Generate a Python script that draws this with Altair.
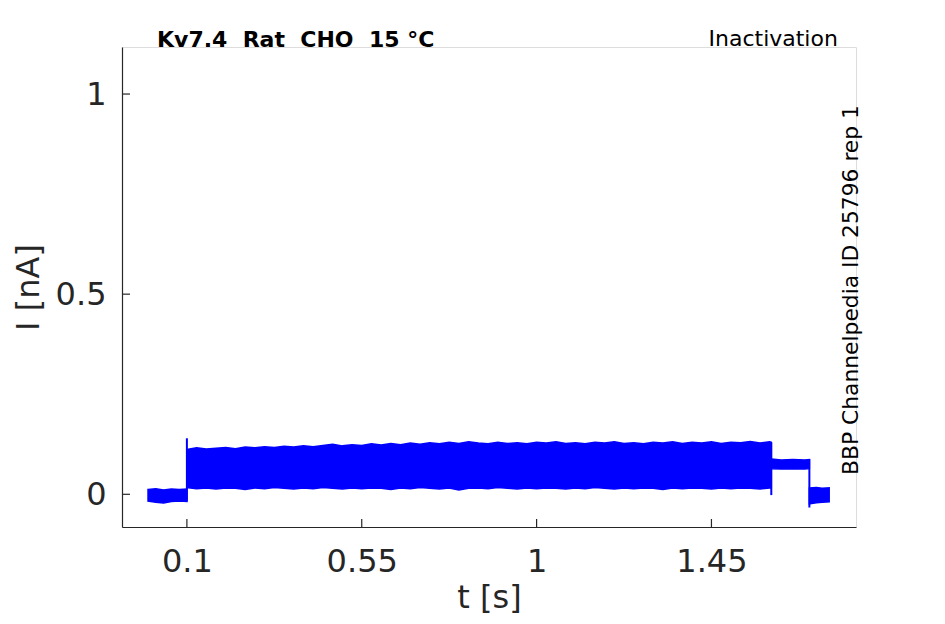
import altair as alt
import pandas as pd

# ---------------- data ----------------
# baseline before the step (t in s, I in nA)
pre_t = [0.0, 0.02, 0.04, 0.06, 0.08, 0.1]
pre_hi = [0.012, 0.014, 0.011, 0.013, 0.012, 0.013]
pre_lo = [-0.017, -0.020, -0.022, -0.018, -0.017, -0.018]

# envelope of the family of sweeps during the test pulse
main_t = [0.100, 0.125, 0.150, 0.175, 0.200, 0.225, 0.250, 0.275, 0.300, 0.325,
          0.350, 0.375, 0.400, 0.425, 0.450, 0.475, 0.500, 0.525, 0.550, 0.575,
          0.600, 0.625, 0.650, 0.675, 0.700, 0.725, 0.750, 0.775, 0.800, 0.825,
          0.850, 0.875, 0.900, 0.925, 0.950, 0.975, 1.000, 1.025, 1.050, 1.075,
          1.100, 1.125, 1.150, 1.175, 1.200, 1.225, 1.250, 1.275, 1.300, 1.325,
          1.350, 1.375, 1.400, 1.425, 1.450, 1.475, 1.500, 1.525, 1.550, 1.575,
          1.600, 1.604]
main_hi = [0.112, 0.116, 0.113, 0.115, 0.117, 0.114, 0.118, 0.116, 0.119, 0.117,
           0.120, 0.118, 0.121, 0.119, 0.122, 0.125, 0.121, 0.124, 0.122, 0.126,
           0.123, 0.127, 0.124, 0.128, 0.125, 0.129, 0.126, 0.130, 0.127, 0.131,
           0.128, 0.126, 0.130, 0.127, 0.129, 0.126, 0.130, 0.128, 0.131, 0.127,
           0.129, 0.126, 0.130, 0.128, 0.131, 0.127, 0.129, 0.126, 0.130, 0.128,
           0.131, 0.127, 0.130, 0.128, 0.131, 0.127, 0.130, 0.129, 0.132, 0.128,
           0.131, 0.130]
main_lo = [0.017, 0.014, 0.016, 0.013, 0.016, 0.015, 0.012, 0.016, 0.014, 0.017,
           0.015, 0.013, 0.016, 0.014, 0.017, 0.015, 0.013, 0.016, 0.014, 0.016,
           0.015, 0.012, 0.016, 0.014, 0.017, 0.015, 0.013, 0.016, 0.011, 0.015,
           0.016, 0.014, 0.017, 0.015, 0.013, 0.016, 0.014, 0.016, 0.015, 0.013,
           0.016, 0.014, 0.017, 0.015, 0.013, 0.016, 0.014, 0.016, 0.015, 0.012,
           0.016, 0.014, 0.016, 0.015, 0.013, 0.016, 0.014, 0.016, 0.015, 0.013,
           0.016, 0.015]

# hold level after the pulse
hold_t = [1.604, 1.63, 1.66, 1.69, 1.702]
hold_hi = [0.088, 0.086, 0.087, 0.086, 0.087]
hold_lo = [0.064, 0.063, 0.064, 0.063, 0.064]

# return to baseline
tail_t = [1.702, 1.72, 1.735, 1.753]
tail_hi = [0.016, 0.017, 0.015, 0.016]
tail_lo = [-0.024, -0.021, -0.020, -0.019]

# vertical transitions
step_t = [0.1, 1.604, 1.702]
step_top = [0.14, 0.13, 0.088]
step_bot = [-0.018, -0.002, -0.033]

x_ticks = [0.1, 0.55, 1, 1.45]
y_ticks = [0, 0.5, 1]
x_domain = [-0.067, 1.822]
y_domain = [-0.0817, 1.1175]

title_left = ["Kv7.4\u00a0 Rat\u00a0 CHO\u00a0 15 °C"]
title_right = ["Inactivation"]
side_text = ["BBP Channelpedia ID 25796 rep 1"]

# ---------------- build tables ----------------
rows = []
for seg, (ts, his, los) in enumerate([(pre_t, pre_hi, pre_lo),
                                      (main_t, main_hi, main_lo),
                                      (hold_t, hold_hi, hold_lo),
                                      (tail_t, tail_hi, tail_lo)]):
    for t, h, l in zip(ts, his, los):
        rows.append({"seg": seg, "t": t, "hi": h, "lo": l})
band_df = pd.DataFrame(rows)
step_df = pd.DataFrame({"t": step_t, "top": step_top, "bot": step_bot})
xt_df = pd.DataFrame({"t": x_ticks})
yt_df = pd.DataFrame({"v": y_ticks})

FONT = "DejaVu Sans"
AX = "#262626"
BLUE = "#0000ff"

xscale = alt.Scale(domain=x_domain, nice=False, zero=False)
yscale = alt.Scale(domain=y_domain, nice=False, zero=False)

x_axis = alt.Axis(values=x_ticks, labelExpr="'' + datum.value", grid=False,
                  ticks=False, tickSize=0,
                  labelFontSize=32, labelColor=AX, labelFont=FONT, labelPadding=19,
                  domainColor=AX, domainWidth=1.2,
                  title="t [s]", titleFontSize=32, titleFont=FONT, titleColor=AX,
                  titleFontWeight="normal", titleBaseline="alphabetic", titleY=80)
y_axis = alt.Axis(values=y_ticks, labelExpr="'' + datum.value", grid=False,
                  ticks=False, tickSize=0,
                  labelFontSize=32, labelColor=AX, labelFont=FONT, labelPadding=16,
                  domainColor=AX, domainWidth=1.2,
                  title="I [nA]", titleFontSize=32, titleFont=FONT, titleColor=AX,
                  titleFontWeight="normal", titleBaseline="alphabetic", titleX=-84)

band = alt.Chart(band_df).mark_area(color=BLUE, opacity=1,
                                    stroke=BLUE, strokeWidth=1.5).encode(
    x=alt.X("t:Q", scale=xscale, axis=x_axis),
    y=alt.Y("hi:Q", scale=yscale, axis=y_axis),
    y2="lo:Q",
    detail="seg:N",
)

steps = alt.Chart(step_df).mark_rule(color=BLUE, strokeWidth=2).encode(
    x=alt.X("t:Q", scale=xscale),
    y=alt.Y("top:Q", scale=yscale),
    y2="bot:Q",
)

xticks = alt.Chart(xt_df).mark_rule(color=AX, strokeWidth=1.2).encode(
    x=alt.X("t:Q", scale=xscale),
    y=alt.value(480),
    y2=alt.value(472),
)
yticks = alt.Chart(yt_df).mark_rule(color=AX, strokeWidth=1.2).encode(
    y=alt.Y("v:Q", scale=yscale),
    x=alt.value(0),
    x2=alt.value(8),
)

t1 = alt.Chart(pd.DataFrame({"txt": title_left})).mark_text(
    font=FONT, fontSize=22, fontWeight="bold", color="#000000",
    align="left", baseline="alphabetic").encode(
    x=alt.value(35), y=alt.value(0), text="txt:N")
t2 = alt.Chart(pd.DataFrame({"txt": title_right})).mark_text(
    font=FONT, fontSize=22, color="#000000",
    align="left", baseline="alphabetic").encode(
    x=alt.value(586.5), y=alt.value(-1), text="txt:N")
t3 = alt.Chart(pd.DataFrame({"txt": side_text})).mark_text(
    font=FONT, fontSize=21.8, color="#000000", angle=270,
    align="center", baseline="alphabetic").encode(
    x=alt.value(736), y=alt.value(243), text="txt:N")

chart = alt.layer(band, steps, xticks, yticks, t1, t2, t3).properties(
    width=734, height=480,
    autosize=alt.AutoSizeParams(type="none"),
    padding={"left": 114, "top": 39, "right": 70, "bottom": 89},
).configure_view(stroke=None).configure(background="white")

chart.save("out.html", embed_options={"renderer": "svg", "actions": False})
